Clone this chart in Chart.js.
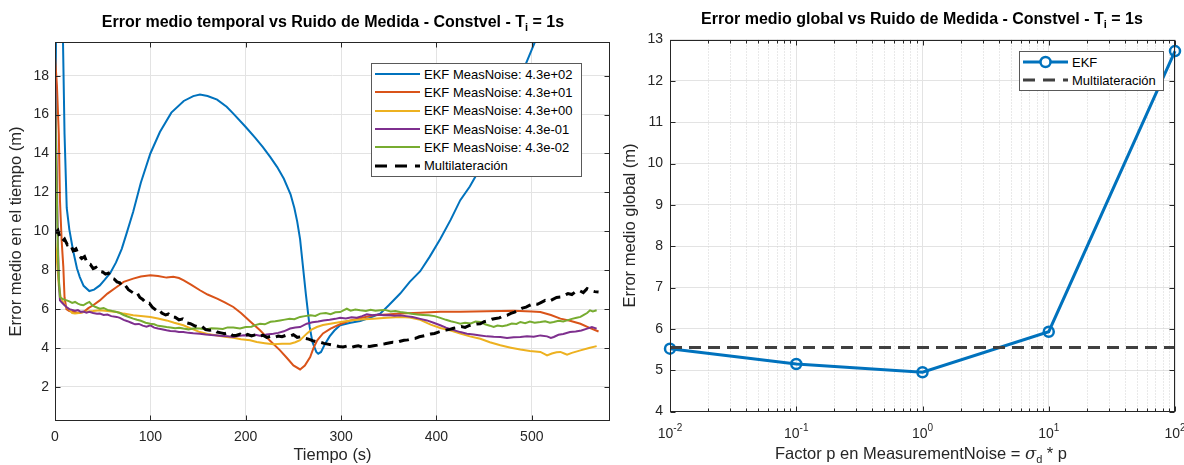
<!DOCTYPE html>
<html>
<head>
<meta charset="utf-8">
<script src="https://cdn.jsdelivr.net/npm/chart.js@4.4.1/dist/chart.umd.min.js"></script>
<style>
  body { margin: 0; background: #fff; }
  #fig { position: relative; width: 1184px; height: 465px; font-family: "Liberation Sans", Arial, sans-serif; color: #262626; }
  canvas { position: absolute; top: 0; }
  .tit { position: absolute; font-weight: bold; font-size: 16px; line-height: 18px; color: #000; white-space: nowrap; transform: translateX(-50%); }
  .tit sub, .xlab sub { font-size: 11px; vertical-align: -4px; line-height: 0; }
  .xlab { position: absolute; font-size: 16.5px; line-height: 19px; white-space: nowrap; transform: translateX(-50%); }
  .logtick { position: absolute; top: 425px; font-size: 14px; line-height: 16px; white-space: nowrap; transform: translateX(-50%); }
  .logtick sup { font-size: 10px; vertical-align: 7px; line-height: 0; }
  .leg { position: absolute; background: #fff; border: 1px solid #595959; box-sizing: border-box; padding-top: 1px; font-size: 13px; color: #000; }
  .fila { display: flex; align-items: center; height: 18.3px; padding-left: 3px; }
  .fila svg { flex: none; margin-right: 4px; }
</style>
</head>
<body>
<div id="fig">
  <canvas id="temporal" width="620" height="465" style="left:0"></canvas>
  <canvas id="global" width="564" height="465" style="left:620px"></canvas>
  <div class="tit" style="left:333px;top:13px">Error medio temporal vs Ruido de Medida - Constvel - T<sub>i</sub> = 1s</div>
  <div class="tit" style="left:922px;top:10px">Error medio global vs Ruido de Medida - Constvel - T<sub>i</sub> = 1s</div>
  <div class="xlab" style="left:921px;top:444px">Factor p en MeasurementNoise = <i style="font-family:'DejaVu Serif',serif">σ</i><sub>d</sub> * p</div>
  <div class="leg" id="leyenda1" style="left:371px;top:63px;width:211px;height:114px"></div>
  <div class="leg" id="leyenda2" style="left:1019px;top:51px;width:145px;height:40px"></div>
</div>
<script>
// ===============================
// DATOS: error medio en el tiempo [t (s), error (m)]
// ===============================
const etiquetas = [
  "EKF MeasNoise: 4.3e+02",
  "EKF MeasNoise: 4.3e+01",
  "EKF MeasNoise: 4.3e+00",
  "EKF MeasNoise: 4.3e-01",
  "EKF MeasNoise: 4.3e-02",
  "Multilateración"
];
const colores = ["#0072BD", "#D95319", "#EDB120", "#7E2F8E", "#77AC30", "#000000"];

const ekf430 = [[0,9.4],[1.5,25],[4,32],[6.5,25],[8.4,19.7],[10,15],[12.3,11.2],[15,10.1],[19,9.0],[23,8.1],[26,7.65],[30,7.2],[36,6.93],[41,7.0],[47,7.22],[52,7.5],[58,7.86],[64,8.4],[70,9.1],[75,9.88],[82,11.0],[90,12.5],[100,14.0],[110,15.1],[122,16.1],[135,16.7],[145,16.95],[152,17.03],[160,16.95],[170,16.77],[180,16.4],[187,16.05],[200,15.36],[210,14.8],[218,14.33],[226,13.8],[233,13.3],[240,12.7],[247,11.9],[251,11.2],[254,10.5],[257,9.6],[260,8.2],[263,6.8],[267,5.1],[270,4.3],[274,3.8],[276,3.71],[279,3.8],[283,4.2],[288,4.6],[293,4.9],[299,5.17],[310,5.3],[320,5.39],[330,5.55],[341,5.77],[350,6.2],[362,6.8],[372,7.4],[383,7.95],[393,8.7],[404,9.6],[415,10.6],[425,11.6],[435,12.3],[443,13.0],[455,14.4],[468,15.7],[480,16.9],[492,18.4],[503,19.7],[515,21.2],[530,23],[550,25.5],[570,28]];

const ekf43 = [[0,19.0],[2,17.5],[4,15],[5.2,11.6],[7,9.5],[8.7,8.2],[10,6.6],[12,6.0],[15,5.9],[20,5.85],[25,5.8],[30,5.85],[35,6.05],[40,6.2],[47,6.45],[55,6.8],[64.7,7.14],[72,7.4],[82,7.57],[90,7.68],[100,7.74],[108,7.7],[117,7.62],[124,7.66],[130,7.6],[135,7.48],[143,7.25],[152,6.97],[160,6.75],[170,6.54],[178,6.35],[187,6.11],[195,5.8],[205,5.35],[215,4.91],[225,4.4],[236,3.88],[243,3.5],[250,3.11],[257,2.9],[262,3.1],[267.6,3.54],[271,4.0],[275,4.4],[281,4.75],[289,5.0],[300,5.25],[310,5.42],[322,5.56],[334,5.68],[348,5.73],[362,5.77],[383,5.82],[404,5.86],[425,5.87],[453,5.89],[481,5.92],[500,5.88],[509,5.85],[520,5.7],[530,5.51],[540,5.4],[551,5.25],[560,5.05],[570,4.85]];

const ekf4 = [[0,9.6],[2,8.5],[4,7.2],[6,6.6],[9,6.3],[12,6.1],[15.7,5.94],[18,5.8],[21,5.77],[25,5.8],[29.7,5.85],[35,5.88],[40,5.9],[47,5.94],[55,5.9],[64.7,5.85],[72,5.77],[82,5.68],[90,5.65],[100,5.6],[108,5.52],[117,5.42],[125,5.3],[134.6,5.17],[143,5.0],[152,4.82],[160,4.72],[170,4.65],[178,4.58],[187,4.53],[195,4.45],[204.6,4.4],[211.6,4.31],[220,4.25],[229,4.19],[238,4.22],[246.6,4.22],[252,4.3],[257,4.4],[264,4.74],[269,4.95],[274.6,5.08],[281,5.18],[288.6,5.25],[298,5.33],[309.5,5.42],[320,5.47],[334,5.51],[348,5.56],[362,5.6],[372,5.57],[383,5.45],[394,5.2],[404,5.03],[415,4.9],[425,4.74],[435,4.6],[446,4.48],[456,4.3],[467,4.14],[478,4.02],[488,3.92],[498,3.85],[509,3.8],[513,3.7],[516,3.62],[521,3.72],[526,3.78],[530,3.8],[534,3.72],[537,3.66],[542,3.75],[551,3.88],[560,4.0],[568,4.1]];

const ekf043 = [[0,18.1],[1.5,14],[3,9.5],[4,7.5],[5.2,6.45],[7,6.35],[9,6.25],[12.3,6.1],[15,6.0],[18,5.96],[21,5.92],[24,5.95],[27,5.86],[29.7,5.88],[33,5.82],[36,5.86],[40,5.8],[44,5.76],[47,5.77],[51,5.7],[55,5.72],[59,5.64],[64.7,5.6],[68,5.55],[72,5.45],[76,5.38],[80,5.3],[84,5.22],[88,5.24],[92,5.15],[96,5.1],[100,5.17],[104,5.05],[108,5.0],[112,4.97],[117,4.91],[121,4.88],[126,4.86],[130,4.83],[134.6,4.82],[140,4.78],[145,4.76],[152,4.74],[158,4.7],[164,4.67],[170,4.65],[176,4.62],[181,4.6],[187,4.57],[192,4.62],[198,4.66],[204.6,4.65],[210,4.68],[216,4.62],[222,4.7],[229,4.74],[234,4.78],[240,4.86],[246.6,5.0],[252,5.05],[257,5.08],[264,5.25],[270,5.32],[276,5.36],[281.5,5.42],[288,5.45],[294,5.5],[299,5.56],[305,5.52],[311,5.58],[316.6,5.56],[322,5.64],[327,5.73],[333,5.68],[339,5.72],[344.5,5.68],[350,5.7],[356,5.66],[362,5.68],[368,5.64],[375,5.6],[383,5.5],[390,5.42],[397,5.3],[404,5.17],[410,5.05],[418,4.92],[425,4.82],[432,4.74],[439,4.7],[446,4.65],[453,4.6],[460,4.58],[467,4.57],[474,4.52],[481,4.56],[488,4.57],[495,4.6],[502,4.58],[509,4.65],[516,4.6],[520,4.52],[523,4.57],[528,4.68],[533,4.72],[540,4.82],[546,4.85],[552,4.9],[558,5.0],[563,5.08],[568,5.0]];

const ekf0043 = [[0,17.4],[1.5,13],[3,9.0],[4,7.6],[5.2,6.62],[7,6.55],[9,6.5],[12.3,6.45],[15,6.4],[18,6.32],[21,6.37],[24,6.28],[27,6.22],[29.7,6.2],[33,6.3],[36,6.37],[39,6.2],[42,6.12],[47,6.02],[51,6.06],[55,5.96],[60,5.9],[64.7,5.85],[68,5.8],[72,5.7],[76,5.62],[82,5.51],[86,5.45],[90,5.4],[95,5.3],[100,5.25],[104,5.22],[108,5.14],[112,5.12],[117,5.08],[121,5.06],[126,5.02],[130,5.04],[134.6,5.0],[140,4.96],[146,5.02],[152,5.0],[158,4.95],[164,5.02],[170,5.0],[176,4.98],[181,5.06],[187,5.05],[194,5.0],[200,5.08],[206,5.1],[210,5.18],[215,5.25],[220,5.22],[226,5.35],[231,5.38],[236,5.42],[241,5.46],[246,5.5],[251,5.48],[257,5.6],[262,5.64],[268,5.68],[273,5.65],[278,5.77],[284,5.8],[289,5.74],[294,5.84],[299,5.85],[303,5.95],[306,6.02],[310,5.92],[315,5.98],[320,5.94],[326,5.9],[331,5.97],[336,5.92],[341,5.94],[346,5.96],[352,5.88],[357,5.9],[362,5.85],[368,5.82],[374,5.76],[380,5.72],[386,5.7],[392,5.68],[398,5.64],[404,5.55],[410,5.45],[415,5.38],[420,5.32],[425,5.25],[430,5.3],[436,5.26],[441,5.36],[446,5.34],[451,5.22],[456,5.15],[460,5.08],[464,5.16],[469,5.12],[474,5.17],[479,5.26],[484,5.24],[488,5.34],[493,5.28],[498,5.36],[503,5.3],[509,5.34],[514,5.38],[519,5.3],[523,5.34],[528,5.4],[533,5.36],[537,5.42],[542,5.5],[547,5.56],[551,5.6],[555,5.72],[558,5.8],[561,5.94],[564,5.88],[568,5.94]];

const multilat = [[0,9.9],[3,10.05],[5,9.7],[8,9.5],[10,9.6],[13,9.3],[16,9.35],[19,9.0],[22,9.1],[25,8.75],[28,8.6],[31,8.7],[34,8.35],[37,8.3],[40,8.08],[43,8.15],[46,7.95],[50,7.91],[53,7.8],[56,7.85],[59,7.6],[62,7.55],[65,7.4],[68,7.35],[71,7.14],[74,7.2],[77,7.0],[80,6.9],[83,6.8],[86,6.85],[89,6.6],[92,6.5],[96,6.28],[99,6.3],[102,6.1],[106,5.94],[109,6.0],[112,5.8],[116,5.7],[119,5.75],[122,5.6],[126,5.58],[130,5.45],[134,5.5],[138,5.3],[142,5.25],[146,5.15],[150,5.08],[154,5.12],[158,4.95],[162,4.91],[166,4.95],[170,4.82],[174,4.78],[178,4.74],[182,4.8],[186,4.66],[190,4.65],[194,4.72],[198,4.6],[202,4.7],[206,4.62],[210,4.68],[214,4.6],[218,4.66],[222,4.55],[226,4.6],[230,4.55],[234,4.62],[238,4.58],[242,4.65],[246,4.6],[250,4.68],[254,4.55],[258,4.58],[262,4.5],[266,4.46],[270,4.38],[274,4.32],[278,4.3],[282,4.24],[286,4.2],[290,4.16],[294,4.12],[298,4.08],[302,4.05],[306,4.1],[310,4.02],[314,4.08],[318,4.12],[322,4.05],[326,4.1],[330,4.08],[334,4.12],[338,4.15],[342,4.2],[346,4.22],[350,4.26],[354,4.3],[358,4.28],[362,4.35],[366,4.4],[370,4.42],[374,4.48],[378,4.5],[382,4.58],[386,4.62],[390,4.66],[394,4.72],[398,4.75],[402,4.82],[406,4.88],[410,4.92],[414,4.96],[418,5.02],[422,5.05],[426,5.1],[430,5.06],[434,5.15],[438,5.2],[442,5.24],[446,5.25],[450,5.35],[454,5.4],[458,5.48],[462,5.52],[466,5.55],[470,5.65],[474,5.68],[478,5.78],[482,5.85],[486,5.95],[490,6.05],[494,6.1],[498,6.2],[502,6.28],[506,6.25],[510,6.35],[514,6.45],[518,6.4],[522,6.5],[526,6.6],[530,6.62],[534,6.7],[538,6.8],[542,6.75],[546,6.9],[550,6.95],[554,6.85],[558,7.05],[562,6.95],[566,6.9],[570,6.88]];

// ===============================
// DATOS: error medio global
// ===============================
const factorP = [0.01, 0.1, 1, 10, 100];
const errorEKF = [5.52, 5.15, 4.95, 5.93, 12.72];
const errorMultilat = 5.55;

// ===============================
// ESTILO MATLAB
// ===============================
Chart.defaults.font.family = '"Liberation Sans", Arial, sans-serif';
Chart.defaults.color = "#262626";

const GRID = "#e3e3e3";
const TICK_FONT = { size: 14 };
const LABEL_FONT = { size: 16.5 };

// caja, ticks hacia dentro y rejilla menor logaritmica
const ejesMatlab = {
  id: "ejesMatlab",
  beforeDatasetsDraw(chart, args, opts) {
    if (!opts.menorX) return;
    const { ctx, chartArea: a, scales: { x } } = chart;
    ctx.save();
    ctx.strokeStyle = "#d2d2d2";
    ctx.lineWidth = 1;
    ctx.setLineDash([1, 2]);
    for (let d = x.min; d < x.max * 0.99; d *= 10) {
      for (let k = 2; k <= 9; k++) {
        const px = Math.round(x.getPixelForValue(d * k)) + 0.5;
        ctx.beginPath(); ctx.moveTo(px, a.top); ctx.lineTo(px, a.bottom); ctx.stroke();
      }
    }
    ctx.restore();
  },
  afterDraw(chart, args, opts) {
    const { ctx, chartArea: a, scales: { x, y } } = chart;
    const L = Math.round(a.left) + 0.5, R = Math.round(a.right) - 0.5;
    const T = Math.round(a.top) + 0.5, B = Math.round(a.bottom) - 0.5;
    ctx.save();
    ctx.strokeStyle = "#262626";
    ctx.lineWidth = 1;
    ctx.strokeRect(L, T, R - L, B - T);
    ctx.beginPath();
    x.ticks.forEach(t => {
      const px = Math.round(x.getPixelForValue(t.value)) + 0.5;
      ctx.moveTo(px, B); ctx.lineTo(px, B - 5);
      ctx.moveTo(px, T); ctx.lineTo(px, T + 5);
    });
    y.ticks.forEach(t => {
      const py = Math.round(y.getPixelForValue(t.value)) + 0.5;
      ctx.moveTo(L, py); ctx.lineTo(L + 5, py);
      ctx.moveTo(R, py); ctx.lineTo(R - 5, py);
    });
    if (opts.menorX) {
      for (let d = x.min; d < x.max * 0.99; d *= 10) {
        for (let k = 2; k <= 9; k++) {
          const px = Math.round(x.getPixelForValue(d * k)) + 0.5;
          ctx.moveTo(px, B); ctx.lineTo(px, B - 3);
          ctx.moveTo(px, T); ctx.lineTo(px, T + 3);
        }
      }
    }
    ctx.stroke();
    ctx.restore();
  }
};

// ===============================
// GRAFICA 1: ERROR TEMPORAL
// ===============================
const seriesT = [ekf430, ekf43, ekf4, ekf043, ekf0043, multilat];

new Chart(document.getElementById("temporal"), {
  type: "line",
  data: {
    datasets: seriesT.map((s, i) => ({
      label: etiquetas[i],
      data: s.map(([t, e]) => ({ x: t, y: e })),
      borderColor: colores[i],
      borderWidth: i === 5 ? 3 : 2,
      borderDash: i === 5 ? [10, 6] : [],
      pointRadius: 0,
      tension: 0,
      order: 10 - i
    }))
  },
  options: {
    responsive: false,
    animation: false,
    layout: { padding: { top: 42, right: 10, bottom: 0, left: 0 } },
    plugins: { legend: { display: false }, tooltip: { enabled: false }, ejesMatlab: {} },
    scales: {
      x: {
        type: "linear", min: 0, max: 582,
        ticks: { stepSize: 100, font: TICK_FONT, padding: 8, maxRotation: 0 },
        afterBuildTicks: s => { s.ticks = s.ticks.filter(t => t.value % 100 === 0); },
        afterFit: s => { s.height = 44; },
        grid: { color: GRID, drawTicks: false },
        border: { display: false },
        title: { display: true, text: "Tiempo (s)", font: LABEL_FONT, padding: { top: 0, bottom: 0 } }
      },
      y: {
        type: "linear", min: 0.25, max: 19.73,
        ticks: { stepSize: 2, font: TICK_FONT, padding: 6 },
        afterBuildTicks: s => { s.ticks = s.ticks.filter(t => t.value % 2 === 0 && t.value > 1); },
        afterFit: s => { s.width = 55; },
        grid: { color: GRID, drawTicks: false },
        border: { display: false },
        title: { display: true, text: "Error medio en el tiempo (m)", font: LABEL_FONT, padding: { top: 7, bottom: 0 } }
      }
    }
  },
  plugins: [ejesMatlab]
});

// ===============================
// GRAFICA 2: ERROR GLOBAL
// ===============================
const graf2 = new Chart(document.getElementById("global"), {
  type: "line",
  data: {
    datasets: [
      {
        label: "EKF",
        data: factorP.map((p, i) => ({ x: p, y: errorEKF[i] })),
        borderColor: colores[0],
        borderWidth: 3,
        pointRadius: 5,
        pointBorderWidth: 2.5,
        pointBackgroundColor: "rgba(255,255,255,0)",
        pointBorderColor: colores[0],
        tension: 0,
        clip: false,
        order: 2
      },
      {
        label: "Multilateración",
        data: [{ x: factorP[0], y: errorMultilat }, { x: factorP[factorP.length - 1], y: errorMultilat }],
        borderColor: "#404040",
        borderWidth: 3,
        borderDash: [12, 7],
        pointRadius: 0,
        order: 1
      }
    ]
  },
  options: {
    responsive: false,
    animation: false,
    layout: { padding: { top: 39.5, right: 9, bottom: 0, left: 0 } },
    plugins: { legend: { display: false }, tooltip: { enabled: false }, ejesMatlab: { menorX: true } },
    scales: {
      x: {
        type: "logarithmic", min: 0.01, max: 100,
        ticks: { display: false },
        afterBuildTicks: s => {
          s.ticks = s.ticks.filter(t => Math.abs(Math.log10(t.value) - Math.round(Math.log10(t.value))) < 1e-6);
        },
        afterFit: s => { s.height = 53.5; },
        grid: { color: GRID, drawTicks: false },
        border: { display: false }
      },
      y: {
        type: "linear", min: 4, max: 13,
        ticks: { stepSize: 1, font: TICK_FONT, padding: 7 },
        afterFit: s => { s.width = 50; },
        grid: { color: GRID, drawTicks: false },
        border: { display: false },
        title: { display: true, text: "Error medio global (m)", font: LABEL_FONT, padding: { top: 1, bottom: 0 } }
      }
    }
  },
  plugins: [ejesMatlab]
});

// etiquetas 10^n del eje logaritmico, colocadas con la escala de Chart.js
const fig = document.getElementById("fig");
graf2.scales.x.ticks.forEach(t => {
  const d = document.createElement("div");
  d.className = "logtick";
  d.style.left = (620 + graf2.scales.x.getPixelForValue(t.value)) + "px";
  d.innerHTML = "10<sup>" + Math.round(Math.log10(t.value)) + "</sup>";
  fig.appendChild(d);
});

// ===============================
// LEYENDAS
// ===============================
function muestra(color, ancho, dash, marcador) {
  let s = `<svg width="45" height="18"><line x1="0" y1="9" x2="45" y2="9" stroke="${color}" stroke-width="${ancho}"` +
          (dash ? ` stroke-dasharray="${dash}"` : "") + `/>`;
  if (marcador) s += `<circle cx="22.5" cy="9" r="5" fill="#fff" stroke="${color}" stroke-width="2.5"/>`;
  return s + `</svg>`;
}

const leg1 = document.getElementById("leyenda1");
etiquetas.forEach((et, i) => {
  leg1.innerHTML += `<div class="fila">${muestra(colores[i], i === 5 ? 3 : 2, i === 5 ? "12 8" : "", false)}<span>${et}</span></div>`;
});

const leg2 = document.getElementById("leyenda2");
leg2.innerHTML =
  `<div class="fila">${muestra(colores[0], 3, "", true)}<span>EKF</span></div>` +
  `<div class="fila">${muestra("#404040", 3, "12 8", false)}<span>Multilateración</span></div>`;
</script>
</body>
</html>
